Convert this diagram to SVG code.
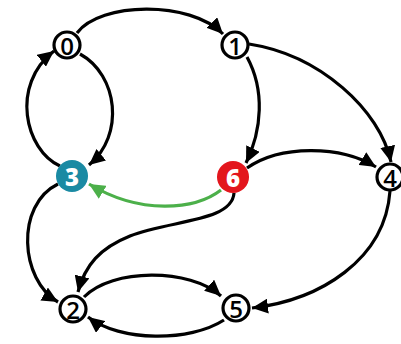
<svg xmlns="http://www.w3.org/2000/svg" width="401" height="344" viewBox="0 0 401 344">
  <style>
    .edge { fill: none; stroke: #000; stroke-width: 3.2; }
    .edge.green { stroke: #4cb04a; }
    .node circle { fill: #fff; stroke: #000; stroke-width: 3.2; }
    .node text { font-family: "Open Sans", "DejaVu Sans", sans-serif; font-size: 24px; font-weight: 600; text-anchor: middle; dominant-baseline: central; fill: #000; }
    .node.teal circle { fill: #1a8aa3; stroke: none; }
    .node.red circle { fill: #e3161d; stroke: none; }
    .node.teal text, .node.red text { fill: #fff; font-weight: 800; }
  </style>
  <defs>
    <marker id="arrow" markerUnits="userSpaceOnUse" markerWidth="17" markerHeight="15" refX="16" refY="7.5" orient="auto">
      <path d="M0,0 L16,7.5 L0,15 z" fill="#000"/>
    </marker>
    <marker id="arrow-green" markerUnits="userSpaceOnUse" markerWidth="17" markerHeight="15" refX="16" refY="7.5" orient="auto">
      <path d="M0,0 L16,7.5 L0,15 z" fill="#4cb04a"/>
    </marker>
  </defs>

  <g id="connectors">
    <path class="edge" d="M77,33 C100,2 190,0 223,34" marker-end="url(#arrow)"/>
    <path class="edge" d="M60,166 C25,150 10,85 54,51" marker-end="url(#arrow)"/>
    <path class="edge" d="M80,54 C118,75 125,135 89,165" marker-end="url(#arrow)"/>
    <path class="edge" d="M247,57 C265,90 262,130 246,163" marker-end="url(#arrow)"/>
    <path class="edge" d="M249,44 C320,55 380,110 391,162" marker-end="url(#arrow)"/>
    <path class="edge" d="M247,168 C280,145 340,145 376,167" marker-end="url(#arrow)"/>
    <path class="edge green" d="M221,190 C195,210 140,215 89,184" marker-end="url(#arrow-green)"/>
    <path class="edge" d="M234,193 C232,222 170,220 130,236 C100,248 85,265 78,292" marker-end="url(#arrow)"/>
    <path class="edge" d="M58,184 C15,205 20,280 58,302" marker-end="url(#arrow)"/>
    <path class="edge" d="M84,297 C112,268 190,268 221,296" marker-end="url(#arrow)"/>
    <path class="edge" d="M224,320 C190,342 120,342 88,317" marker-end="url(#arrow)"/>
    <path class="edge" d="M390,191 C385,260 320,300 252,308" marker-end="url(#arrow)"/>
  </g>

  <g id="node-0" class="node"><circle cx="67" cy="45" r="13"/><text x="67" y="45">0</text></g>
  <g id="node-1" class="node"><circle cx="235" cy="45" r="13"/><text x="235" y="45">1</text></g>
  <g id="node-3" class="node teal"><circle cx="72" cy="176" r="16"/><text x="72" y="176">3</text></g>
  <g id="node-6" class="node red"><circle cx="233" cy="177" r="16"/><text x="233" y="177">6</text></g>
  <g id="node-4" class="node"><circle cx="390" cy="177" r="13"/><text x="390" y="177">4</text></g>
  <g id="node-2" class="node"><circle cx="73" cy="309" r="13"/><text x="73" y="309">2</text></g>
  <g id="node-5" class="node"><circle cx="236" cy="308" r="13"/><text x="236" y="308">5</text></g>
</svg>
